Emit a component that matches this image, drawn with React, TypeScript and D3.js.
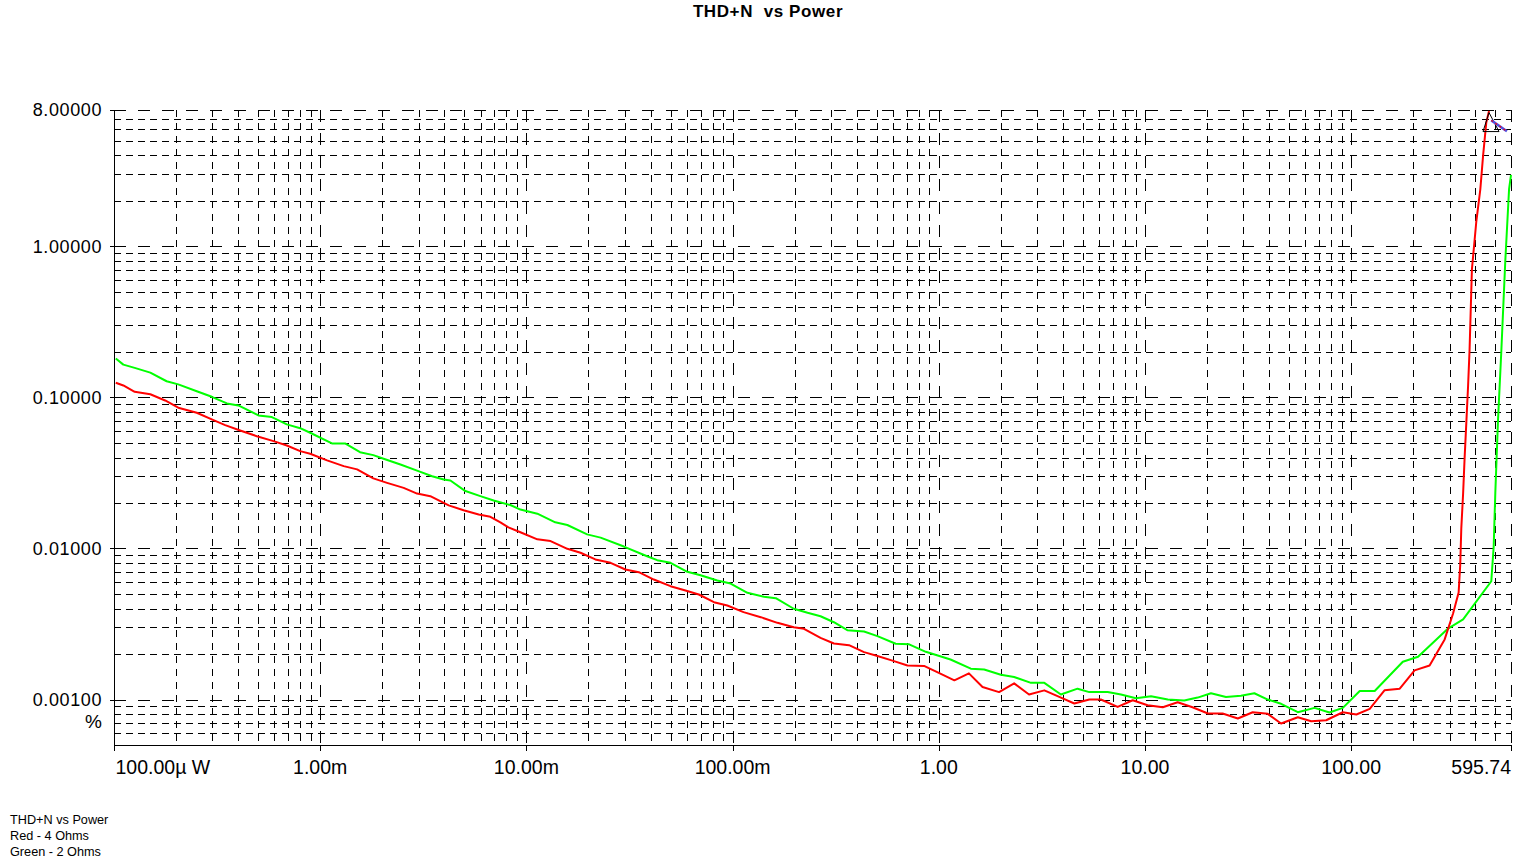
import React from "react";
import * as d3 from "d3";

const title = "THD+N  vs Power";
const legendLines = ["THD+N vs Power", "Red - 4 Ohms", "Green - 2 Ohms"];
const yUnit = "%";

const xTickValues = [0.0001, 0.001, 0.01, 0.1, 1, 10, 100, 595.74];
const xTickLabels = ["100.00µ W", "1.00m", "10.00m", "100.00m", "1.00", "10.00", "100.00", "595.74"];
const yTickValues = [8, 1, 0.1, 0.01, 0.001];
const yTickLabels = ["8.00000", "1.00000", "0.10000", "0.01000", "0.00100"];

// [power W, THD+N %] — Red, 4 Ohms
const red4Ohms: [number, number][] = [
  [0.000102, 0.125], [0.000111, 0.12], [0.000126, 0.109], [0.00015, 0.105], [0.000177, 0.0955],
  [0.000205, 0.0855], [0.000252, 0.0792], [0.000298, 0.0715], [0.000346, 0.0656], [0.000409, 0.0604],
  [0.000493, 0.0554], [0.000594, 0.0514], [0.000689, 0.0481], [0.0008, 0.0441], [0.000894, 0.0424],
  [0.00108, 0.0383], [0.0013, 0.0351], [0.00151, 0.0334], [0.00181, 0.0291], [0.00211, 0.0272],
  [0.00254, 0.0252], [0.00295, 0.0231], [0.00342, 0.0222], [0.0042, 0.0193], [0.00496, 0.0179],
  [0.00587, 0.0168], [0.00669, 0.0162], [0.00748, 0.0149], [0.00818, 0.0138], [0.00935, 0.0128],
  [0.0113, 0.0115], [0.0131, 0.0112], [0.0158, 0.00995], [0.0183, 0.00937], [0.0216, 0.00846],
  [0.0256, 0.00804], [0.0302, 0.00726], [0.0351, 0.00697], [0.0415, 0.00623], [0.05, 0.00563],
  [0.0591, 0.00527], [0.0686, 0.00496], [0.0812, 0.00441], [0.0943, 0.00419], [0.113, 0.00379],
  [0.137, 0.00351], [0.165, 0.00322], [0.198, 0.00301], [0.222, 0.00294], [0.267, 0.00256],
  [0.31, 0.00235], [0.367, 0.00229], [0.434, 0.00206], [0.504, 0.00194], [0.596, 0.00181],
  [0.705, 0.00168], [0.848, 0.00167], [1.0, 0.0015], [1.19, 0.00134], [1.4, 0.00149],
  [1.63, 0.00121], [1.96, 0.00112], [2.32, 0.00128], [2.74, 0.00108], [3.25, 0.00115],
  [3.84, 0.00104], [4.54, 0.000941], [5.37, 0.001], [6.11, 0.001], [7.37, 0.000894],
  [8.72, 0.000989], [10.3, 0.000917], [12.2, 0.000889], [14.4, 0.00096], [17.0, 0.000889],
  [20.2, 0.000808], [23.8, 0.000808], [28.2, 0.000749], [33.3, 0.000824], [39.4, 0.000804],
  [45.7, 0.000694], [55.1, 0.000763], [64.0, 0.000718], [75.6, 0.000729], [91.1, 0.000824],
  [106, 0.000796], [123, 0.000868], [145, 0.00115], [172, 0.00118], [203, 0.00156],
  [240, 0.00168], [284, 0.0025], [312, 0.00371], [332, 0.00511], [338, 0.00783],
  [342, 0.0136], [349, 0.0231], [355, 0.0401], [362, 0.0694], [369, 0.12],
  [375, 0.205], [385, 0.704], [404, 1.44], [423, 2.39], [436, 3.96],
  [452, 6.6], [466, 7.87],
];

// [power W, THD+N %] — Green, 2 Ohms
const green2Ohms: [number, number][] = [
  [0.000102, 0.181], [0.000111, 0.165], [0.000126, 0.157], [0.00015, 0.146], [0.00018, 0.128],
  [0.000205, 0.122], [0.000252, 0.11], [0.000298, 0.101], [0.000353, 0.0913], [0.000401, 0.0885],
  [0.000502, 0.076], [0.000583, 0.0741], [0.000689, 0.0663], [0.0008, 0.0626], [0.000894, 0.0584],
  [0.00114, 0.0496], [0.00132, 0.0496], [0.00156, 0.0434], [0.00181, 0.0415], [0.00203, 0.0393],
  [0.00245, 0.036], [0.00295, 0.0328], [0.00349, 0.0301], [0.00397, 0.0286], [0.00428, 0.0282],
  [0.00506, 0.024], [0.00598, 0.0222], [0.00694, 0.0208], [0.00836, 0.0194], [0.00935, 0.0181],
  [0.0113, 0.017], [0.0138, 0.0149], [0.0158, 0.0143], [0.0197, 0.0124], [0.0229, 0.0118],
  [0.0297, 0.0103], [0.0385, 0.00889], [0.0431, 0.00837], [0.05, 0.00804], [0.0603, 0.00701],
  [0.0699, 0.00665], [0.0843, 0.00614], [0.0978, 0.00586], [0.118, 0.00509], [0.142, 0.00479],
  [0.162, 0.00469], [0.198, 0.00399], [0.231, 0.00375], [0.267, 0.00356], [0.31, 0.00325],
  [0.36, 0.00288], [0.434, 0.00282], [0.504, 0.00263], [0.618, 0.00234], [0.718, 0.00232],
  [0.865, 0.00207], [1.14, 0.00184], [1.43, 0.0016], [1.66, 0.00158], [2.0, 0.00146],
  [2.32, 0.00141], [2.8, 0.00129], [3.25, 0.00129], [3.91, 0.00108], [4.71, 0.00118],
  [5.37, 0.00112], [6.59, 0.00112], [7.65, 0.00108], [9.04, 0.00102], [10.7, 0.00105],
  [12.9, 0.001], [15.5, 0.000985], [18.0, 0.00103], [20.9, 0.0011], [24.7, 0.00104],
  [29.2, 0.00106], [33.9, 0.0011], [39.4, 0.001], [45.7, 0.000937], [55.1, 0.000824],
  [66.4, 0.000881], [78.5, 0.00082], [91.1, 0.000881], [110, 0.00114], [130, 0.00114],
  [178, 0.00178], [211, 0.00192], [295, 0.00295], [349, 0.00339], [478, 0.00607],
  [491, 0.0103], [500, 0.0233], [515, 0.0694], [535, 0.206], [559, 0.804],
  [583, 2.39], [595.74, 2.98],
];

// cursor marker near the red peak: triangle anchor and the highlighted segment
const markerPoint: [number, number] = [466, 7.87];
const cursorSegment: [number, number][] = [[478, 6.83], [569, 5.78]];

const W = 1538;
const H = 866;
const PL = 114;
const PR = 1511;
const PT = 110;
const PB = 745;

export default function App() {
  const x = d3.scaleLog().domain([0.0001, 595.74]).range([PL, PR]);
  const y = d3.scaleLog().domain([0.0005, 8]).range([PB, PT]);

  const line = d3
    .line<[number, number]>()
    .x((d) => x(d[0]))
    .y((d) => y(d[1]));

  const vGrid: { v: number; major: boolean }[] = [];
  for (let n = -4; n <= 2; n++) {
    for (let k = 1; k <= 9; k++) {
      const v = k * Math.pow(10, n);
      if (v <= 595.74 * 1.0001 && v >= 0.0001 * 0.9999) vGrid.push({ v, major: k === 1 });
    }
  }
  vGrid.push({ v: 595.74, major: true });

  const hGrid: { v: number; major: boolean }[] = [];
  for (let n = -4; n <= 0; n++) {
    for (let k = 1; k <= 9; k++) {
      const v = k * Math.pow(10, n);
      if (v > 0.0005 * 1.0001 && v <= 8 * 1.0001) hGrid.push({ v, major: k === 1 || v > 7.9 });
    }
  }

  const px = (v: number) => Math.round(x(v)) + 0.5;
  const py = (v: number) => Math.round(y(v)) + 0.5;

  const mx = x(markerPoint[0]);
  const my = y(markerPoint[1]);

  const font = "'Liberation Sans', Arial, sans-serif";

  return (
    <svg
      width={W}
      height={H}
      viewBox={`0 0 ${W} ${H}`}
      style={{ position: "absolute", left: 0, top: 0, display: "block", background: "#fff" }}
    >
      <rect x={0} y={0} width={W} height={H} fill="#fff" />
      <text
        x={768}
        y={17}
        textAnchor="middle"
        fontFamily={font}
        fontWeight="bold"
        fontSize={17}
        letterSpacing={0.6}
        fill="#000"
        style={{ whiteSpace: "pre" }}
      >
        {title}
      </text>

      <g>
        {hGrid.map((g, i) => (
          <line
            key={"h" + i}
            x1={PL}
            x2={PR}
            y1={py(g.v)}
            y2={py(g.v)}
            stroke="#000"
            strokeWidth={1}
            strokeDasharray={g.major ? "12,12" : "7,5"}
          />
        ))}
        {vGrid.map((g, i) => (
          <line
            key={"v" + i}
            x1={px(g.v)}
            x2={px(g.v)}
            y1={PT}
            y2={PB}
            stroke="#000"
            strokeWidth={1}
            strokeDasharray={g.major ? "12,11" : "7,6"}
          />
        ))}
      </g>

      <line x1={PL + 0.5} x2={PL + 0.5} y1={PT} y2={PB + 1} stroke="#000" strokeWidth={1} />
      <line x1={PL} x2={PR + 1} y1={PB + 0.5} y2={PB + 0.5} stroke="#000" strokeWidth={1} />
      {xTickValues.map((v, i) => (
        <line key={"xt" + i} x1={px(v)} x2={px(v)} y1={PB} y2={PB + 6} stroke="#000" strokeWidth={1} />
      ))}
      {yTickValues.map((v, i) => (
        <line key={"yt" + i} x1={PL - 4} x2={PL} y1={py(v)} y2={py(v)} stroke="#000" strokeWidth={1} />
      ))}

      {xTickValues.map((v, i) => (
        <text
          key={"xl" + i}
          x={i === 0 ? PL + 1.5 : i === xTickValues.length - 1 ? PR : x(v)}
          y={774}
          textAnchor={i === 0 ? "start" : i === xTickValues.length - 1 ? "end" : "middle"}
          fontFamily={font}
          fontSize={19.5}
          fill="#000"
        >
          {xTickLabels[i]}
        </text>
      ))}
      {yTickValues.map((v, i) => (
        <text
          key={"yl" + i}
          x={102}
          y={y(v)}
          dy="0.36em"
          textAnchor="end"
          fontFamily={font}
          fontSize={18}
          letterSpacing={0.6}
          fill="#000"
        >
          {yTickLabels[i]}
        </text>
      ))}
      <text x={102} y={728} textAnchor="end" fontFamily={font} fontSize={19} fill="#000">
        {yUnit}
      </text>

      <defs>
        <clipPath id="plotClip">
          <rect x={PL} y={PT - 4} width={PR - PL + 2} height={PB - PT + 4} />
        </clipPath>
      </defs>
      <g clipPath="url(#plotClip)">
        <path d={line(green2Ohms) || ""} fill="none" stroke="#00ff00" strokeWidth={2} strokeLinejoin="round" />
        <path d={line(red4Ohms) || ""} fill="none" stroke="#ff0000" strokeWidth={2} strokeLinejoin="round" />
      </g>

      <path
        d={`M${mx},${my + 1.5} L${mx - 6},${my + 20.5} L${mx + 10},${my + 20.5} Z`}
        fill="none"
        stroke="#000"
        strokeWidth={1}
      />
      <path d={line(cursorSegment) || ""} fill="none" stroke="#5050e0" strokeWidth={2.5} />
      <path d={line(cursorSegment) || ""} fill="none" stroke="#ff0000" strokeWidth={1.2} strokeDasharray="2,3" />

      {legendLines.map((t, i) => (
        <text key={"lg" + i} x={10} y={824 + i * 16} fontFamily={font} fontSize={12.7} fill="#000">
          {t}
        </text>
      ))}
    </svg>
  );
}
